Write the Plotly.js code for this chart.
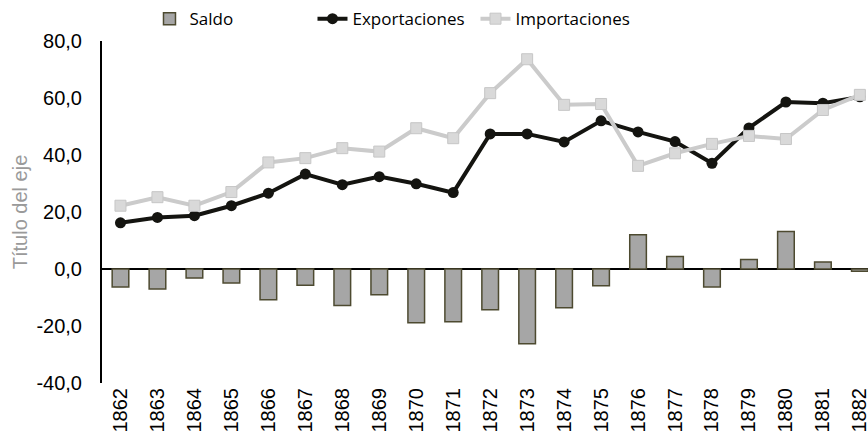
<!DOCTYPE html>
<html>
<head>
<meta charset="utf-8">
<script src="https://cdn.plot.ly/plotly-3.0.1.min.js"></script>
<style>html,body{margin:0;padding:0;background:#fff}#chart{width:868px;height:444px}</style>
</head>
<body>
<div id="chart"></div>
<script>
const years = ["1862","1863","1864","1865","1866","1867","1868","1869","1870","1871","1872","1873","1874","1875","1876","1877","1878","1879","1880","1881","1882"];
const saldo = [-6.3,-7.0,-3.2,-4.9,-10.8,-5.7,-12.8,-9.0,-18.9,-18.5,-14.3,-26.2,-13.6,-5.9,12.0,4.4,-6.3,3.3,13.2,2.5,-0.8];
const exportaciones = [16.2,18.1,18.7,22.2,26.6,33.3,29.6,32.4,29.9,26.8,47.4,47.4,44.6,52.0,48.1,44.7,37.1,49.5,58.6,58.2,60.4];
const importaciones = [22.2,25.2,22.2,27.0,37.4,38.9,42.4,41.2,49.4,45.9,61.7,73.6,57.6,57.9,36.2,40.6,43.9,46.7,45.6,55.8,61.1];
const yTickVals = [-40,-20,0,20,40,60,80];
const yTickText = ["-40,0","-20,0","0,0","20,0","40,0","60,0","80,0"];

const traces = [
  {type:'bar', name:'Saldo', x:years, y:saldo, width:0.45,
   marker:{color:'#a6a6a6', line:{color:'#4d4a30', width:1.5}}},
  {type:'scatter', mode:'lines+markers', name:'Exportaciones', x:years, y:exportaciones,
   line:{color:'#141410', width:4}, marker:{symbol:'circle', size:11, color:'#141410'}, cliponaxis:false},
  {type:'scatter', mode:'lines+markers', name:'Importaciones', x:years, y:importaciones,
   line:{color:'#cbcbcb', width:4}, marker:{symbol:'square', size:11, color:'#d9d9d9', line:{color:'#c6c6c6', width:1}}, cliponaxis:false}
];

const layout = {
  width:868, height:444,
  margin:{l:102, r:0, t:41, b:61, autoexpand:false},
  paper_bgcolor:'#fff', plot_bgcolor:'#fff',
  showlegend:true,
  legend:{orientation:'h', x:0.062, y:1.064, xanchor:'left', yanchor:'middle',
    font:{family:'Open Sans, Arial, sans-serif', size:17, color:'#000'}, traceorder:'normal',
    entrywidth:118, entrywidthmode:'pixels'},
  xaxis:{type:'category', range:[-0.5,20.22], showline:false, ticks:'', tickangle:-90,
    tickfont:{family:'Liberation Sans, Arial, sans-serif', size:20, color:'#000'}, showgrid:false, zeroline:false, fixedrange:true},
  yaxis:{range:[-40,80], tickmode:'array', tickvals:yTickVals, ticktext:yTickText, showline:true, linecolor:'#000', linewidth:2,
    ticks:'', ticklabelstandoff:14, showgrid:false, zeroline:true, zerolinecolor:'#000', zerolinewidth:1.5,
    tickfont:{family:'Liberation Sans, Arial, sans-serif', size:20, color:'#000'},
    title:{text:'Título del eje', font:{family:'Liberation Sans, Arial, sans-serif', size:20, color:'#9a9a9a'}, standoff:3},
    automargin:false},
  bargap:0.5
};

Plotly.newPlot('chart', traces, layout, {displayModeBar:false, staticPlot:true});
</script>
</body>
</html>
